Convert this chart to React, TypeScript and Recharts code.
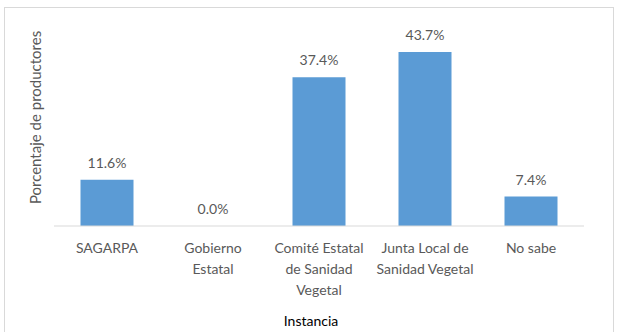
import React from "react";
import { ComposedChart, Bar, Line, XAxis, YAxis, LabelList } from "recharts";

const categories = [
  "SAGARPA",
  "Gobierno\nEstatal",
  "Comité Estatal\nde Sanidad\nVegetal",
  "Junta Local de\nSanidad Vegetal",
  "No sabe",
];
const values = [11.6, 0.0, 37.4, 43.7, 7.4];
const yDomain = [0, 50];
const yTitle = "Porcentaje de productores";
const xTitle = "Instancia";

const data = categories.map((c, i) => ({ name: c, value: values[i] }));

const FONT = "Lato, 'Open Sans', sans-serif";
const TEXT = "#595959";

const Tick = (props: any) => {
  const { x, y, payload } = props;
  const lines = String(payload.value).split("\n");
  return (
    <text x={x} y={y} textAnchor="middle" fill={TEXT} fontSize={14} fontFamily={FONT}>
      {lines.map((l: string, i: number) => (
        <tspan key={i} x={x} dy={i === 0 ? 19 : 21}>
          {l}
        </tspan>
      ))}
    </text>
  );
};

const YTitle = (props: any) => {
  const vb = props.viewBox || {};
  const cx = 35;
  const cy = vb.y + vb.height / 2 - 9;
  return (
    <text
      x={cx}
      y={cy}
      transform={`rotate(-90 ${cx} ${cy})`}
      textAnchor="middle"
      dominantBaseline="central"
      fill={TEXT}
      fontSize={15}
      fontFamily={FONT}
    >
      {yTitle}
    </text>
  );
};

const XTitle = (props: any) => {
  const vb = props.viewBox || {};
  const cx = vb.x + vb.width / 2 - 8;
  return (
    <text x={cx} y={326} textAnchor="middle" fill="#000" fontSize={14} fontFamily={FONT}>
      {xTitle}
    </text>
  );
};

export default function App() {
  return (
    <div style={{ position: "fixed", left: 0, top: 0, width: 618, height: 332, background: "#fff", overflow: "hidden" }}>
      <div
        style={{
          position: "absolute",
          left: 4,
          top: 7,
          width: 610,
          height: 340,
          border: "1px solid #d9d9d9",
          boxSizing: "border-box",
        }}
      />
      <div style={{ position: "absolute", left: 0, top: 0 }}>
        <ComposedChart
          width={618}
          height={332}
          data={data}
          margin={{ top: 27, right: 34, bottom: 0, left: 0 }}
          barCategoryGap="25%"
        >
          <YAxis
            type="number"
            domain={yDomain}
            width={54}
            tick={false}
            tickLine={false}
            axisLine={false}
            label={<YTitle />}
          />
          <XAxis
            dataKey="name"
            height={106}
            interval={0}
            tickLine={false}
            axisLine={{ stroke: "#d9d9d9", strokeWidth: 1 }}
            tick={<Tick />}
            label={<XTitle />}
          />
          <Bar dataKey="value" fill="#5B9BD5" isAnimationActive={false} />
          <Line
            dataKey="value"
            stroke="none"
            dot={false}
            activeDot={false}
            isAnimationActive={false}
          >
            <LabelList
              dataKey="value"
              position="top"
              offset={12}
              formatter={(v: any) => `${Number(v).toFixed(1)}%`}
              style={{ fill: TEXT, fontSize: 14, fontFamily: FONT }}
            />
          </Line>
        </ComposedChart>
      </div>
    </div>
  );
}
